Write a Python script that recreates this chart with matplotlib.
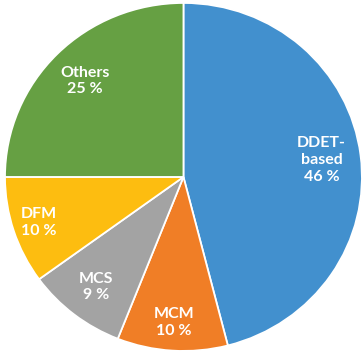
import matplotlib
matplotlib.use("Agg")
import matplotlib.pyplot as plt
import numpy as np

categories = ["DDET-\nbased", "MCM", "MCS", "DFM", "Others"]
values = [46, 10, 9, 10, 25]
colors = ["#4290CE", "#F07E26", "#A3A3A3", "#FDBD10", "#66A043"]
label_dist = [0.78, 0.84, 0.80, 0.85, 0.78]

fig = plt.figure(figsize=(3.63, 3.56), dpi=100)
ax = fig.add_axes([0, 0, 1, 1])
wedges, _ = ax.pie(values, colors=colors, startangle=90, counterclock=False,
                   wedgeprops=dict(edgecolor="white", linewidth=1.3))
for w, cat, v, d in zip(wedges, categories, values, label_dist):
    ang = np.deg2rad((w.theta1 + w.theta2) / 2)
    ax.text(d * np.cos(ang), d * np.sin(ang), f"{cat}\n{v} %", ha="center", va="center",
            color="white", fontsize=11.5, fontweight="bold", family=["Lato", "DejaVu Sans"],
            linespacing=1.25)
ax.set_xlim(-1.028, 1.006)
ax.set_ylim(-1.029, 1.017)
ax.set_aspect("auto")
ax.axis("off")
fig.savefig("out.png", dpi=100)
